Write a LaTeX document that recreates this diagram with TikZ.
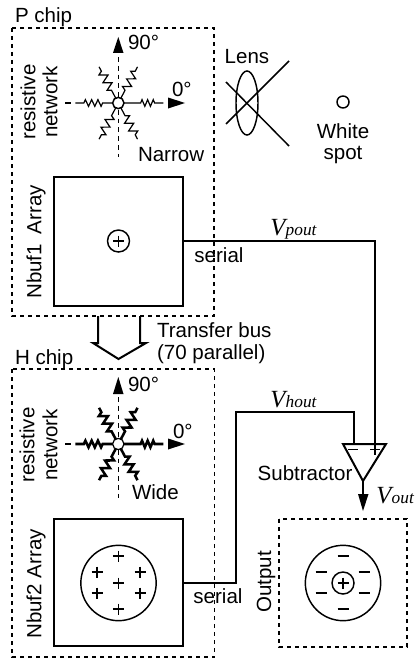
\documentclass[tikz,border=0pt]{standalone}
\usepackage{fontspec}
\setmainfont{Liberation Sans}
\newfontfamily\vfont{Liberation Serif}
\usetikzlibrary{calc,decorations.pathmorphing,shapes.geometric}
\newcommand{\vsym}[2]{{\vfont\itshape\fontsize{18.5}{18}\selectfont #1\kern0.3pt\fontsize{13}{13}\selectfont #2}}
\tikzset{
  x=0.75pt,y=-0.75pt,
  wire/.style={draw=black,line width=1.5pt,line join=miter},
  thinw/.style={draw=black,line width=1.1pt},
  dashbox/.style={draw=black,line width=1.4pt,dash pattern=on 3pt off 3pt},
  axis/.style={draw=black,line width=0.8pt,dash pattern=on 3.6pt off 3pt},
  lbl/.style={inner sep=0pt,outer sep=0pt,font=\fontsize{15.4}{15.4}\selectfont,text=black},
  arr/.style={draw=none,fill=black},
  sq/.style={draw=black,line width=1.5pt,inner sep=0pt,outer sep=0pt,minimum width=96.75pt,minimum height=96.75pt},
  dot/.style={circle,draw=black,fill=white,line width=1.1pt,inner sep=0pt,outer sep=0pt},
  resleft/.style={decorate,decoration={zigzag,segment length=4.7pt,amplitude=2.5pt,pre length=8pt,post length=6pt}},
  resright/.style={decorate,decoration={zigzag,segment length=4.2pt,amplitude=2.5pt,pre length=13pt,post length=5pt}},
  resdiag/.style={decorate,decoration={zigzag,segment length=6.5pt,amplitude=3pt,pre length=7pt,post length=2pt}}
}
\newcommand{\plusm}[2]{\draw[thinw] (#1-5.5,#2) -- (#1+5.5,#2) (#1,#2-5.5) -- (#1,#2+5.5);}
\newcommand{\minusm}[2]{\draw[thinw] (#1-5.5,#2) -- (#1+5.5,#2);}
\newcommand{\starnet}[2]{%
  \draw[#2,resleft] ($(#1)+(180:5)$) -- ($(#1)+(180:43)$);
  \draw[#2,resright] ($(#1)+(0:5)$) -- ($(#1)+(0:45)$);
  \foreach \a in {62,118,242,298} {\draw[#2,resdiag] ($(#1)+(\a:5)$) -- ($(#1)+(\a:41)$);}
}
\begin{document}
\begin{tikzpicture}
\useasboundingbox (0,0) rectangle (415,660);
\fill[white] (0,0) rectangle (415,660);
% dashed chips
\draw[dashbox] (12,28) rectangle (214,316);
\draw[dashbox] (12,369) rectangle (214.5,657);
\draw[dashbox] (279,519) rectangle (407,647);
% labels chips
\node[lbl,anchor=base west] (pchip) at (15,23) {P chip};
\node[lbl,anchor=base west] (hchip) at (15,364) {H chip};
% P network
\coordinate (pc) at (118.3,103);
\draw[axis] (118.3,57) -- (118.3,157);
\draw[draw=black,line width=0.8pt] (65,103) -- (71,103);
\fill[arr] (118.3,37) -- (123.5,53) -- (113,53) -- cycle;
\fill[arr] (185,103) -- (168,97.5) -- (168,108.5) -- cycle;
\starnet{pc}{draw=black,line width=0.9pt}
\node[dot,minimum size=8.5pt] (pring) at (pc) {};
\node[lbl,anchor=base west] (p90) at (128,50) {90\textdegree};
\node[lbl,anchor=base west] (p0) at (172,97) {0\textdegree};
\node[lbl,rotate=90] (pres) at (28,102) {resistive};
\node[lbl,rotate=90] (pnet) at (50,102) {network};
\node[lbl,anchor=base west] (narrow) at (138,161) {Narrow};
% Nbuf1
\node[sq] (nb1) at (118.5,241.5) {};
\node[dot,minimum size=16.5pt] (pplus) at (118.5,241) {};
\plusm{118.5}{241}
\node[lbl,rotate=90] (nb1l) at (36,242) {Nbuf1\kern3pt\ Array};
\node[lbl,anchor=base] (ser1) at (219,262) {serial};
% Lens and spot
\node[draw=black,line width=1.1pt,ellipse,inner sep=0pt,minimum width=16.5pt,minimum height=48pt] (lens) at (247,103) {};
\coordinate (la) at (226,82); \coordinate (lb) at (289,146);
\coordinate (lc) at (226,124); \coordinate (ld) at (289,61);
\draw[thinw] (la) -- (lb);
\draw[thinw] (lc) -- (ld);
\node[lbl,anchor=base] (lensl) at (247,64) {Lens};
\node[dot,minimum size=9pt] (spot) at (343,102) {};
\node[lbl,anchor=base] (white) at (343,138) {White};
\node[lbl,anchor=base] (spotl) at (343,159) {spot};
% transfer bus
\node[inner sep=0pt] (tb1) at (98,316) {};
\node[inner sep=0pt] (tb2) at (140,316) {};
\draw[wire,line join=miter] (tb1.center) -- (98,343) -- (93,343) -- (118.5,359) -- (146,343) -- (140,343) -- (tb2.center);
\node[lbl,anchor=base west] (tr1) at (157,337) {Transfer bus};
\node[lbl,anchor=base west] (tr2) at (157,359) {(70 parallel)};
% H network
\coordinate (hc) at (118.3,444);
\draw[axis] (118.3,397) -- (118.3,498);
\draw[draw=black,line width=0.8pt] (65,444) -- (71,444);
\fill[arr] (118.3,377) -- (123.5,394) -- (113,394) -- cycle;
\fill[arr] (185,444) -- (168,438.5) -- (168,449.5) -- cycle;
\starnet{hc}{draw=black,line width=1.9pt}
\node[dot,minimum size=8.5pt,line width=0.9pt] (hring) at (hc) {};
\node[lbl,anchor=base west] (h90) at (128,391) {90\textdegree};
\node[lbl,anchor=base west] (h0) at (173,438) {0\textdegree};
\node[lbl,rotate=90] (hres) at (27,445) {resistive};
\node[lbl,rotate=90] (hnet) at (50,445) {network};
\node[lbl,anchor=base west] (wide) at (132,499) {Wide};
% Nbuf2
\node[sq,minimum height=95.25pt] (nb2) at (118.5,582.5) {};
\node[circle,draw=black,line width=1.1pt,inner sep=0pt,minimum size=56.5pt] (hdisk) at (118.5,583) {};
\plusm{118.3}{556}\plusm{97}{572}\plusm{140}{572}\plusm{118.3}{583}\plusm{97}{593}\plusm{140}{593}\plusm{118.3}{609}
\node[lbl,rotate=90] (nb2l) at (36,584) {Nbuf2 Array};
\node[lbl,anchor=base] (ser2) at (218,603) {serial};
% subtractor
\coordinate (t1) at (343,444); \coordinate (t2) at (386,444); \coordinate (t3) at (363,481);
\draw[wire] (t1) -- (t2) -- (t3) -- cycle;
\draw[thinw] (348,449.5) -- (358,449.5);
\draw[thinw] (370,449.5) -- (380,449.5) (375,444) -- (375,455);
\node[lbl,anchor=base] (subl) at (305,480) {Subtractor};
% wires
\coordinate (pin) at (375,444); \coordinate (hin) at (353.5,444);
\draw[wire] (nb1.east |- pplus) -| (pin);
\draw[wire] (nb2.east |- hdisk) -| (236,412) -| (hin);
\draw[wire] (t3) -- (363,495);
\fill[arr] (363,511) -- (358,494) -- (368.5,494) -- cycle;
\node[anchor=base west,inner sep=0pt] (vp) at (270,235) {\vsym{V}{pout}};
\node[anchor=base west,inner sep=0pt] (vh) at (270,407) {\vsym{V}{hout}};
\node[anchor=base west,inner sep=0pt] (vo) at (376,503) {\vsym{V}{out}};
% output
\node[circle,draw=black,line width=1.1pt,inner sep=0pt,minimum size=56.5pt] (odisk) at (343,583) {};
\node[dot,minimum size=16.5pt] (oplus) at (343,583) {};
\plusm{343}{583}
\minusm{343}{556}\minusm{321}{572}\minusm{364}{572}\minusm{321}{593}\minusm{364}{593}\minusm{343}{609}
\node[lbl,rotate=90] (outl) at (266,582) {Output};
\end{tikzpicture}
\end{document}
